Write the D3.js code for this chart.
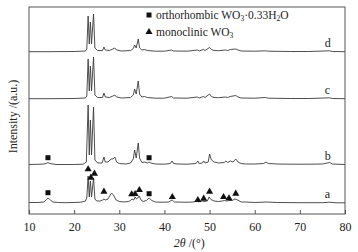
<!DOCTYPE html>
<html lang="en">
<head>
    <meta charset="UTF-8">
    <title>XRD patterns</title>
    <script src="https://d3js.org/d3.v7.min.js"></script>
    <style>
        html, body { margin: 0; padding: 0; background: #fff; }
        text { font-family: "Liberation Serif", "DejaVu Serif", serif; fill: #222; }
    </style>
</head>
<body>
    <div id="chart"></div>
    <script>
        // Sample names, bottom to top
        const samples = ["a", "b", "c", "d"];
        // Vertical offset of each pattern (a.u.)
        const offsets = [11, 49, 115, 162];

        // Patterns as [2theta, intensity]
        const patternA = [
            [10, 0.5], [12, 0.5], [13.3, 1], [13.9, 3.5], [14.2, 5], [14.6, 3.5], [15.3, 1], [16.5, 0.5],
            [18, 0.3], [20, 0.5], [21.5, 0.8], [22.5, 2], [22.8, 5], [23.1, 27], [23.35, 6], [23.6, 22],
            [23.85, 6], [24.3, 25], [24.6, 4], [25, 2], [25.8, 2], [26.3, 3], [26.6, 4], [26.9, 3],
            [27.5, 4], [28, 8], [28.3, 10], [28.7, 8], [29.3, 3], [30, 1.5], [31, 1], [32, 1.5],
            [32.5, 2.5], [32.8, 4], [33.2, 3], [33.5, 6], [33.8, 4], [34.1, 5], [34.4, 7], [34.8, 3],
            [35.3, 1.5], [36, 2.5], [36.6, 5], [37.2, 2.5], [38, 1], [39, 0.8], [40, 0.8], [41, 1],
            [41.7, 3], [42.2, 1], [44, 0.8], [45.5, 0.8], [46.5, 1], [47.2, 2], [47.6, 1.2], [48.4, 2],
            [48.8, 1.5], [49.5, 2], [49.9, 6], [50.3, 3.5], [51, 2], [52, 1.5], [52.8, 2], [53.3, 2.5],
            [53.8, 2], [54.3, 2.5], [55, 2.5], [55.6, 4], [56.2, 3], [57, 1], [58, 1], [60, 0.5],
            [62.5, 1], [65, 0.5], [70, 0.3], [75, 0.3], [76.5, 0.8], [78, 0.2], [80, 0.2]
        ];
        const patternB = [
            [10, 0.5], [13, 0.8], [13.8, 1.5], [14.2, 2.5], [14.6, 1.5], [16, 0.5], [20, 0.5], [22, 0.8],
            [22.7, 3], [23.1, 60], [23.35, 10], [23.6, 45], [23.85, 10], [24.3, 58], [24.6, 5], [25.2, 2],
            [26.2, 2], [26.6, 8], [26.9, 3], [27.5, 3], [28.2, 6], [28.6, 6], [29, 8], [29.4, 3],
            [30, 1.5], [31.5, 1], [32.5, 2], [33.1, 6], [33.4, 15], [33.75, 7], [34.2, 22], [34.5, 7],
            [35, 2.5], [35.6, 3], [36.2, 2], [36.6, 3], [37, 2], [38, 1], [40, 0.8], [41.3, 1.5],
            [41.7, 4], [42, 1.5], [43, 1], [45, 0.8], [47, 1.5], [47.4, 4], [47.7, 1.5], [48.4, 2],
            [48.7, 4], [49, 2], [49.7, 3], [50, 11], [50.4, 5], [51, 3], [52, 2], [53.3, 2.5],
            [53.6, 4], [54, 2.5], [54.6, 4], [55.2, 3], [55.8, 6], [56.3, 3], [57, 1.5], [58, 1],
            [60, 1], [62, 1.5], [62.5, 3], [63, 1.5], [65, 1], [68, 0.8], [72, 0.8], [75, 1],
            [76.6, 2.5], [77.2, 1], [80, 0.5]
        ];
        const patternC = [
            [10, 0.3], [14, 0.3], [20, 0.5], [22.5, 1], [22.8, 3], [23.1, 40], [23.35, 8], [23.6, 33],
            [23.85, 8], [24.3, 42], [24.6, 4], [25.2, 1.5], [26.3, 1.5], [26.6, 6], [26.9, 2], [27.8, 1.5],
            [28.6, 3], [29, 4], [29.4, 2], [30.5, 1], [32.5, 1.5], [33.1, 4], [33.4, 10], [33.75, 5],
            [34.2, 18], [34.5, 5], [35, 2], [35.6, 2.5], [36.2, 1.5], [38, 0.8], [40, 0.8], [41.6, 2.5],
            [42, 1], [45, 0.8], [47.3, 2], [47.7, 1], [48.6, 2.5], [49, 1.5], [50, 5], [50.4, 2.5],
            [51, 1.5], [52, 1.3], [53.5, 2], [54, 1.5], [54.6, 2.5], [55.8, 3.5], [56.3, 2], [57, 1],
            [60, 0.8], [62.4, 1.5], [63, 0.8], [68, 0.5], [72, 0.5], [76.6, 1.2], [77.2, 0.5], [80, 0.3]
        ];
        const patternD = [
            [10, 0.3], [14, 0.3], [20, 0.5], [22.5, 1], [22.8, 3], [23.1, 36], [23.35, 8], [23.6, 30],
            [23.85, 8], [24.3, 38], [24.6, 4], [25.2, 1.5], [26.3, 1.5], [26.6, 5], [26.9, 2], [27.8, 1.5],
            [28.6, 3], [29, 4], [29.4, 2], [30.5, 1], [32.5, 1.5], [33.1, 3.5], [33.4, 7], [33.75, 4],
            [34.2, 13], [34.5, 4], [35, 2], [35.6, 2.5], [36.2, 1.5], [38, 0.8], [40, 0.8], [41.6, 2],
            [42, 1], [45, 0.8], [47.3, 2], [47.7, 1], [48.6, 2.5], [49, 1.5], [50, 4.5], [50.4, 2.5],
            [51, 1.5], [52, 1.3], [53.5, 2], [54, 1.5], [54.6, 2.5], [55.8, 3], [56.3, 2], [57, 1],
            [60, 0.8], [62.4, 1.2], [63, 0.8], [68, 0.5], [72, 0.5], [76.6, 1.2], [77.2, 0.5], [80, 0.3]
        ];
        const patterns = [patternA, patternB, patternC, patternD];

        // Phase markers: [sample index, 2theta, height above baseline]
        const orthoMarks = [[0, 14.2, 10.3], [0, 36.6, 9.3], [1, 14.2, 7.3], [1, 36.6, 7.3]];
        const monoMarks = [
            [0, 23.1, 33.7], [0, 23.7, 25.3], [0, 24.5, 29.3], [0, 26.6, 11.3], [0, 32.75, 8.7],
            [0, 33.5, 9], [0, 34.45, 13], [0, 41.75, 6], [0, 47.4, 3], [0, 48.7, 4.3], [0, 50.0, 11.3],
            [0, 53.1, 6], [0, 54.3, 4.7], [0, 55.8, 9.3]
        ];

        const xTicks = [10, 20, 30, 40, 50, 60, 70, 80];

        const width = 358;
        const height = 252;
        const margin = {top: 7, right: 13, bottom: 38, left: 29};

        const svg = d3.select("#chart")
            .append("svg")
            .attr("width", width)
            .attr("height", height);

        const x = d3.scaleLinear().domain([10, 80]).range([margin.left, width - margin.right]);
        const y = d3.scaleLinear().domain([0, 207]).range([height - margin.bottom, margin.top]);

        const line = d3.line()
            .x(d => x(d[0]))
            .y(d => y(d[1]));

        // Curves
        patterns.forEach((p, i) => {
            svg.append("path")
                .datum(p.map(d => [d[0], d[1] + offsets[i]]))
                .attr("fill", "none")
                .attr("stroke", "#3a3a3a")
                .attr("stroke-width", 0.9)
                .attr("stroke-linejoin", "round")
                .attr("d", line);
        });

        // Sample labels
        svg.selectAll("text.sample")
            .data(samples)
            .enter()
            .append("text")
            .attr("class", "sample")
            .attr("x", x(75.5))
            .attr("y", (d, i) => y(offsets[i] + 5))
            .attr("font-size", 12)
            .text(d => d);

        // Markers
        svg.selectAll("rect.ortho")
            .data(orthoMarks)
            .enter()
            .append("rect")
            .attr("class", "ortho")
            .attr("x", d => x(d[1]) - 2.5)
            .attr("y", d => y(d[2] + offsets[d[0]]) - 2.5)
            .attr("width", 5)
            .attr("height", 5)
            .attr("fill", "#111");

        const tri = d3.symbol().type(d3.symbolTriangle).size(22);
        svg.selectAll("path.mono")
            .data(monoMarks)
            .enter()
            .append("path")
            .attr("class", "mono")
            .attr("transform", d => `translate(${x(d[1])},${y(d[2] + offsets[d[0]])})`)
            .attr("d", tri)
            .attr("fill", "#111");

        // Frame
        svg.append("rect")
            .attr("x", x(10))
            .attr("y", margin.top)
            .attr("width", x(80) - x(10))
            .attr("height", height - margin.bottom - margin.top)
            .attr("fill", "none")
            .attr("stroke", "#555")
            .attr("stroke-width", 1);

        // Bottom axis, ticks pointing inward
        const xAxis = svg.append("g")
            .attr("transform", `translate(0,${height - margin.bottom})`)
            .call(d3.axisBottom(x).tickValues(xTicks).tickSizeInner(-4).tickSizeOuter(0).tickPadding(8));
        xAxis.select(".domain").remove();
        xAxis.selectAll("line").attr("stroke", "#555");
        xAxis.selectAll("text")
            .attr("font-size", 12)
            .attr("font-family", "Liberation Serif, serif")
            .attr("fill", "#222");

        // Axis titles
        const xt = svg.append("text")
            .attr("x", x(45.5))
            .attr("y", 247)
            .attr("text-anchor", "middle")
            .attr("font-size", 12);
        xt.append("tspan").attr("font-style", "italic").text("2θ");
        xt.append("tspan").text(" /(°)");

        svg.append("text")
            .attr("transform", `translate(17,${(margin.top + height - margin.bottom) / 2 + 6}) rotate(-90)`)
            .attr("text-anchor", "middle")
            .attr("font-size", 12)
            .text("Intensity /(a.u.)");

        // Legend
        const legend = svg.append("g");
        legend.append("rect")
            .attr("x", 146.5).attr("y", 12.5).attr("width", 5).attr("height", 5).attr("fill", "#111");
        const l1 = legend.append("text").attr("x", 156).attr("y", 19).attr("font-size", 11.5);
        l1.append("tspan").text("orthorhombic WO");
        l1.append("tspan").attr("font-size", 7.5).attr("dy", 2).text("3");
        l1.append("tspan").attr("dy", -2).text("·0.33H");
        l1.append("tspan").attr("font-size", 7.5).attr("dy", 2).text("2");
        l1.append("tspan").attr("dy", -2).text("O");

        legend.append("path")
            .attr("transform", "translate(149,32)")
            .attr("d", tri)
            .attr("fill", "#111");
        const l2 = legend.append("text").attr("x", 156).attr("y", 36).attr("font-size", 11.5);
        l2.append("tspan").text("monoclinic WO");
        l2.append("tspan").attr("font-size", 7.5).attr("dy", 2).text("3");
    </script>
</body>
</html>
